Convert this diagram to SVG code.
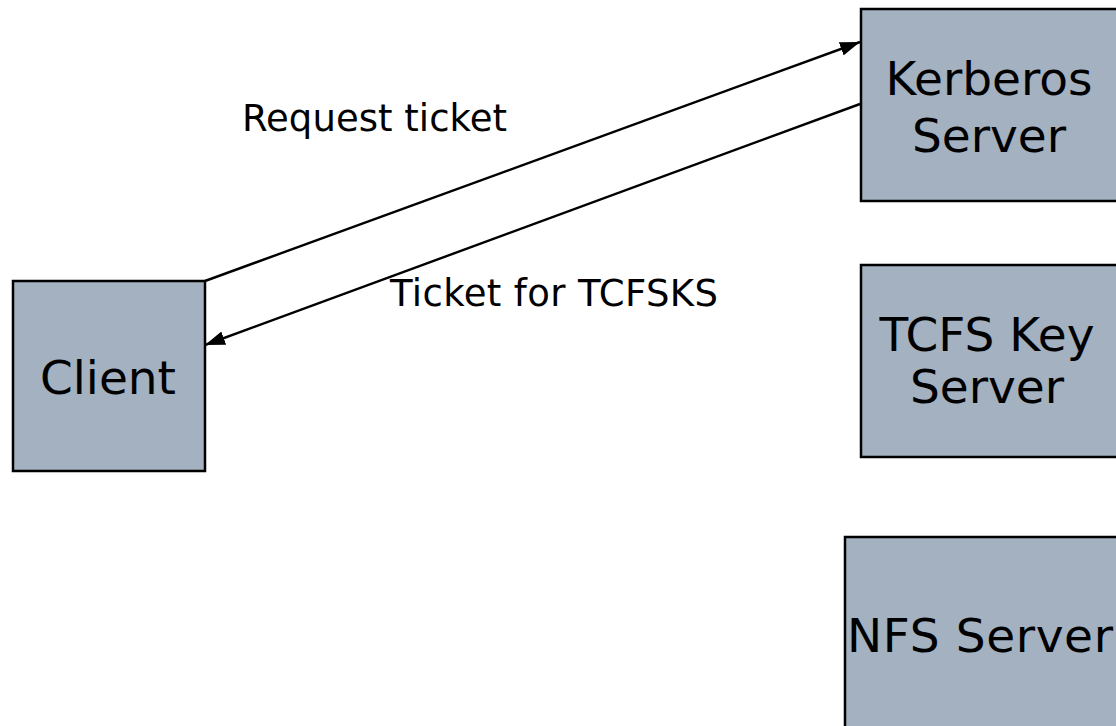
<svg xmlns="http://www.w3.org/2000/svg" width="1116" height="726" viewBox="0 0 1116 726">
<style>
.box{fill:#a3b1c0;stroke:#000;stroke-width:2.5}
.nt{font-family:"DejaVu Sans",Verdana,sans-serif;font-size:47px;fill:#000;text-anchor:middle}
.lt{font-family:"DejaVu Sans",Verdana,sans-serif;font-size:37px;fill:#000}
.cn{stroke:#000;stroke-width:2.4;fill:none;marker-end:url(#ah)}
</style>
<defs>
<marker id="ah" viewBox="0 0 20 14" refX="20" refY="7" markerWidth="20" markerHeight="14" markerUnits="userSpaceOnUse" orient="auto">
<path d="M0,0 L20,7 L0,14 z" fill="#000"/>
</marker>
</defs>
<rect width="1116" height="726" fill="#fff"/>
<g id="connectors">
<line class="cn" x1="205" y1="281" x2="860" y2="42"/>
<line class="cn" x1="860" y1="104" x2="205" y2="345"/>
<text class="lt" x="242" y="131" textLength="265">Request ticket</text>
<text class="lt" x="390" y="306" textLength="328">Ticket for TCFSKS</text>
</g>
<g id="client">
<rect class="box" x="13" y="281" width="192" height="190"/>
<text class="nt" x="108" y="394">Client</text>
</g>
<g id="kerberos">
<rect class="box" x="861" y="9" width="262" height="192"/>
<text class="nt"><tspan x="989" y="95">Kerberos</tspan><tspan x="989" y="152">Server</tspan></text>
</g>
<g id="tcfs">
<rect class="box" x="861" y="265" width="262" height="192"/>
<text class="nt"><tspan x="987" y="351">TCFS Key</tspan><tspan x="987" y="403">Server</tspan></text>
</g>
<g id="nfs">
<rect class="box" x="845" y="537" width="290" height="200"/>
<text class="nt" x="847" y="652" textLength="266" style="text-anchor:start">NFS Server</text>
</g>
</svg>
